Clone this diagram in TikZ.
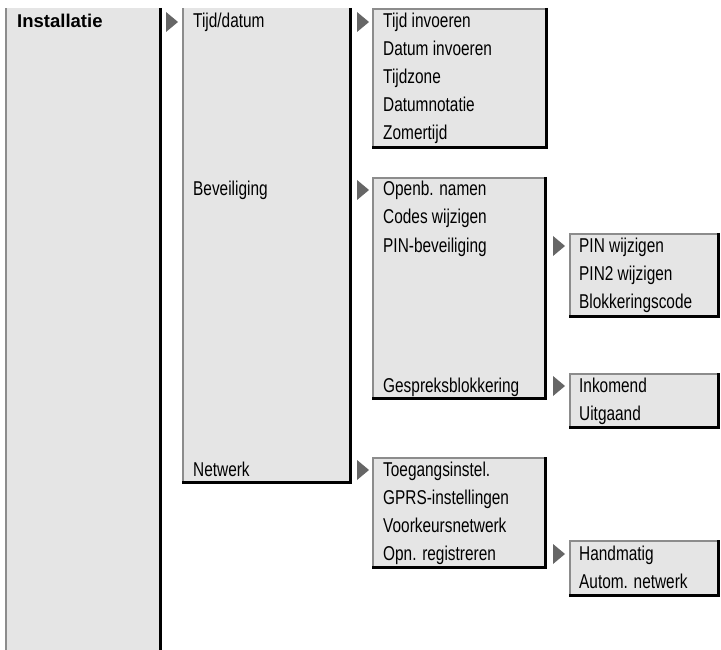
\documentclass[tikz,border=0pt]{standalone}
\usepackage{fontspec}
\setmainfont{Liberation Sans}[FakeStretch=0.77]
\newfontfamily\headfont{Liberation Sans}
\definecolor{boxfill}{HTML}{E5E5E5}
\definecolor{edgegray}{HTML}{8C8C8C}
\definecolor{arrowgray}{HTML}{666666}
\tikzset{
  item/.style={anchor=base west, inner sep=0pt, font=\fontsize{20}{22}\selectfont},
  headitem/.style={anchor=base west, inner sep=0pt, font=\headfont\bfseries\fontsize{18.5}{20}\selectfont},
  lightedge/.style={draw=edgegray, line width=2pt},
  darkedge/.style={draw=black, line width=3pt},
}
% #1=L #2=T #3=R #4=B
\newcommand{\menubox}[4]{%
  \fill[boxfill] (#1,#2) rectangle (#3,#4);
  \draw[lightedge] (#1+1,#4) -- (#1+1,#2+1) -- (#3,#2+1);
  \draw[darkedge] (#3-1.5,#2) -- (#3-1.5,#4-1.5) -- (#1,#4-1.5);
}
\newcommand{\openbox}[4]{%
  \fill[boxfill] (#1,#2) rectangle (#3,#4);
  \draw[lightedge] (#1+1,#4) -- (#1+1,#2);
  \draw[darkedge] (#3-1.5,#2) -- (#3-1.5,#4-1.5);
}
\newcommand{\pointer}[2]{%
  \fill[arrowgray] (#1,#2-10) -- (#1+12,#2) -- (#1,#2+10) -- cycle;
}
\begin{document}
\begin{tikzpicture}[x=1pt,y=-1pt]
\useasboundingbox (0,0) rectangle (721,650);
% column A
\openbox{5}{8}{162}{652}
\node[headitem] (inst) at (17,28) {Installatie};
\pointer{166}{22}
% column B
\fill[boxfill] (182,8) rectangle (352,484);
\draw[lightedge] (183,484) -- (183,8);
\draw[darkedge] (350.5,8) -- (350.5,482.5) -- (182,482.5);
\node[item] (tijd) at (193,28) {Tijd/datum};
\node[item] (bev) at (193,196) {Beveiliging};
\node[item] (net) at (193,476) {Netwerk};
\pointer{357}{22}
\pointer{357}{190}
\pointer{357}{470}
% box C
\menubox{372}{8}{548}{149}
\node[item] (c1) at (383,28) {Tijd invoeren};
\node[item] (c2) at (383,56) {Datum invoeren};
\node[item] (c3) at (383,84) {Tijdzone};
\node[item] (c4) at (383,112) {Datumnotatie};
\node[item] (c5) at (383,140) {Zomertijd};
% box D
\menubox{372}{177}{547}{400}
\node[item] (d1) at (383,196) {Openb. namen};
\node[item] (d2) at (383,224) {Codes wijzigen};
\node[item] (d3) at (383,252) {PIN-beveiliging};
\node[item] (d4) at (383,392) {Gespreksblokkering};
\pointer{553}{246}
\pointer{553}{386}
% box E
\menubox{569}{233}{720}{318}
\node[item] (e1) at (579,252) {PIN wijzigen};
\node[item] (e2) at (579,280) {PIN2 wijzigen};
\node[item] (e3) at (579,308) {Blokkeringscode};
% box F
\menubox{569}{373}{720}{429}
\node[item] (f1) at (579,392) {Inkomend};
\node[item] (f2) at (579,420) {Uitgaand};
% box G
\menubox{372}{457}{547}{569}
\node[item] (g1) at (383,476) {Toegangsinstel.};
\node[item] (g2) at (383,504) {GPRS-instellingen};
\node[item] (g3) at (383,532) {Voorkeursnetwerk};
\node[item] (g4) at (383,560) {Opn. registreren};
\pointer{553}{554}
% box H
\menubox{569}{540}{720}{597}
\node[item] (h1) at (579,560) {Handmatig};
\node[item] (h2) at (579,588) {Autom. netwerk};
\end{tikzpicture}
\end{document}
